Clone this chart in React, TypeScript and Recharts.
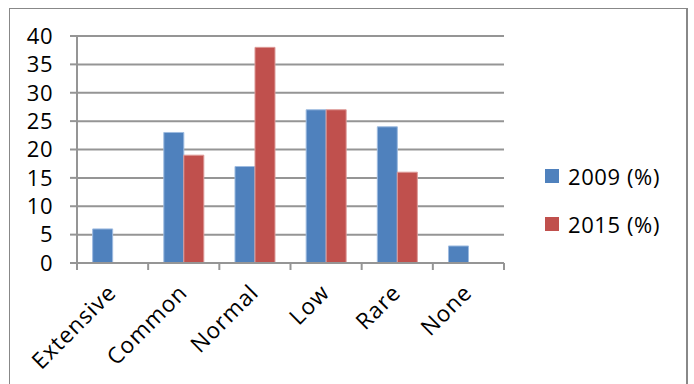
import { BarChart, Bar, XAxis, YAxis, CartesianGrid } from 'recharts'

const categories = ['Extensive', 'Common', 'Normal', 'Low', 'Rare', 'None']
const values2009 = [6, 23, 17, 27, 24, 3]
const values2015 = [0, 19, 38, 27, 16, 0]
const yTicks = [0, 5, 10, 15, 20, 25, 30, 35, 40]

const series = [
  { key: 'y2009', name: '2009 (%)', color: '#4F81BD', edge: '#9dbbe0' },
  { key: 'y2015', name: '2015 (%)', color: '#C0504D', edge: '#dd9a98' },
]

const data = categories.map((c, i) => ({ cat: c, y2009: values2009[i], y2015: values2015[i] }))

const FONT = '"Open Sans", sans-serif'
const GRID = '#959595'
const PLOT_W = 427
const STEP = PLOT_W / categories.length

// x-tick: Excel style, tick marks on category boundaries, rotated label
const CatTick = ({ x, y, payload, index }: any) => (
  <g>
    <line x1={x - STEP / 2} x2={x - STEP / 2} y1={y} y2={y + 7} stroke={GRID} strokeWidth={2} />
    {index === categories.length - 1 && (
      <line x1={x + STEP / 2} x2={x + STEP / 2} y1={y} y2={y + 7} stroke={GRID} strokeWidth={2} />
    )}
    <text
      x={x + 5}
      y={y + 31}
      textAnchor="end"
      transform={`rotate(-45, ${x + 5}, ${y + 31})`}
      fontFamily={FONT}
      fontSize={22.5}
      letterSpacing={1}
      fill="#000"
    >
      {payload.value}
    </text>
  </g>
)

const LegendBox = () => (
  <div style={{
    position: 'absolute', left: 545, top: 169,
    fontFamily: FONT, fontSize: 22, letterSpacing: 0.6, color: '#000',
  }}>
    {series.map(s => (
      <div key={s.key} style={{ display: 'flex', alignItems: 'center', height: 14, marginBottom: 34 }}>
        <span style={{ width: 14, height: 14, background: s.color, display: 'inline-block', marginRight: 9 }} />
        <span style={{ lineHeight: '14px', whiteSpace: 'nowrap' }}>{s.name}</span>
      </div>
    ))}
  </div>
)

export default function App() {
  return (
    <div style={{ position: 'absolute', left: 0, top: 0, width: 694, height: 384, overflow: 'hidden', background: '#fff' }}>
      <div style={{
        position: 'absolute', left: 9, top: 8, width: 676, height: 400,
        borderLeft: '1px solid #888', borderTop: '1px solid #888', borderRight: '2px solid #888',
      }} />
      <BarChart
        width={694}
        height={384}
        data={data}
        margin={{ top: 36, right: 190, bottom: 91, left: 17 }}
        barCategoryGap="22%"
        barGap={0}
        style={{ position: 'absolute', left: 0, top: 0 }}
      >
        <CartesianGrid vertical={false} stroke={GRID} strokeWidth={2} />
        <XAxis
          dataKey="cat"
          height={30}
          axisLine={{ stroke: GRID, strokeWidth: 2 }}
          tickLine={false}
          tickSize={0}
          tickMargin={0}
          interval={0}
          tick={<CatTick />}
        />
        <YAxis
          width={60}
          domain={[0, 40]}
          ticks={yTicks}
          interval={0}
          axisLine={{ stroke: GRID, strokeWidth: 2 }}
          tickLine={{ stroke: GRID, strokeWidth: 2 }}
          tickSize={7}
          tickMargin={17}
          tick={{ fontFamily: FONT, fontSize: 22, fill: '#000', letterSpacing: 0.5 }}
        />
        {series.map(s => (
          <Bar
            key={s.key}
            dataKey={s.key}
            name={s.name}
            fill={s.color}
            stroke={s.edge}
            strokeWidth={1}
            isAnimationActive={false}
          />
        ))}
      </BarChart>
      <LegendBox />
    </div>
  )
}
